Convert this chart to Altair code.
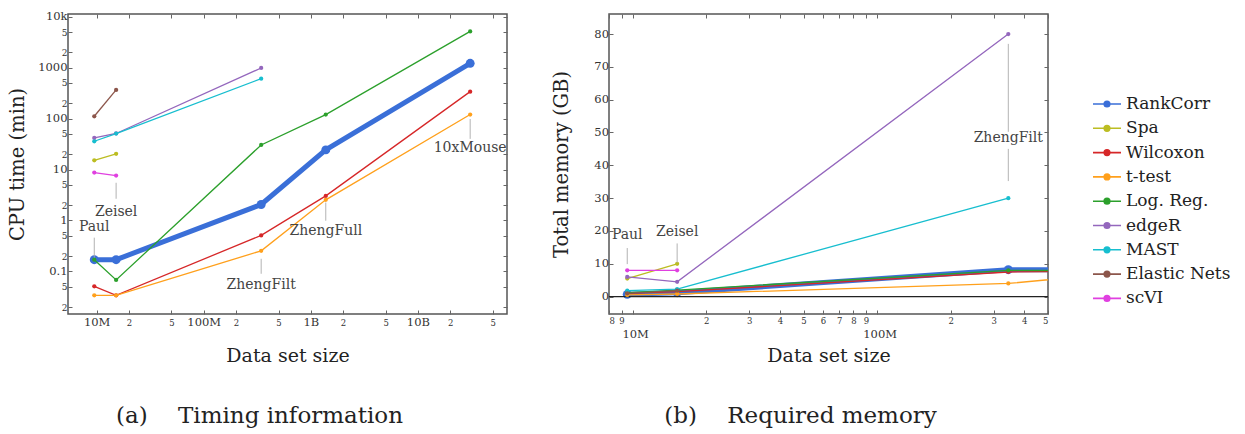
import altair as alt
import pandas as pd

# ---------------- data ----------------
datasets = ["Paul", "Zeisel", "ZhengFilt", "ZhengFull", "10xMouse"]
dataset_size = [9.5e6, 1.52e7, 3.44e8, 1.38e9, 3.08e10]

methods = ["RankCorr", "Spa", "Wilcoxon", "t-test", "Log. Reg.", "edgeR", "MAST", "Elastic Nets", "scVI"]
method_colors = ["#3a6fd8", "#bcbd22", "#d62728", "#ffa01c", "#2ca02c",
                 "#9467bd", "#17becf", "#8c564b", "#e040e0"]

# CPU time (min) per data set (None = not run)
cpu_rankcorr = [0.17, 0.17, 2.06, 24.3, 1216]
cpu_spa = [15.2, 20.3, None, None, None]
cpu_wilcoxon = [0.051, 0.034, 0.51, 3.04, 338]
cpu_ttest = [0.034, 0.034, 0.254, 2.54, 120]
cpu_logreg = [0.17, 0.068, 30.4, 120, 5150]
cpu_edger = [41.8, 51.0, 985, None, None]
cpu_mast = [35.9, 50.8, 608, None, None]
cpu_elastic = [111, 365, None, None, None]
cpu_scvi = [8.7, 7.6, None, None, None]

# Total memory (GB) per data set (None = not run)
mem_rankcorr = [0.7, 1.2, 8.2, 8.0, None]
mem_spa = [5.5, 10.0, None, None, None]
mem_wilcoxon = [1.0, 1.5, 7.5, 8.0, None]
mem_ttest = [0.5, 0.8, 4.0, 8.2, None]
mem_logreg = [1.2, 2.0, 8.0, 7.8, None]
mem_edger = [6.0, 4.5, 80.0, None, None]
mem_mast = [1.8, 2.3, 30.0, None, None]
mem_elastic = [1.0, 1.8, None, None, None]
mem_scvi = [8.0, 8.0, None, None, None]

# annotation labels: text value and leader-line ends
cpu_ann_label = ["Paul", "Zeisel", "ZhengFilt", "ZhengFull", "10xMouse"]
cpu_ann_text_y = [0.75, 1.5, 0.055, 0.61, 27]
cpu_ann_lead_y1 = [0.46, 5.5, 0.177, 2.25, 98]
cpu_ann_lead_y2 = [0.186, 2.67, 0.09, 0.99, 40]

mem_ann_label = ["Paul", "Zeisel", "ZhengFilt"]
mem_ann_text_y = [18.9, 19.7, 48.4]
mem_lead_ds = ["Paul", "Zeisel", "ZhengFilt", "ZhengFilt"]
mem_lead_y1 = [14.8, 16.2, 77.0, 45.0]
mem_lead_y2 = [9.9, 10.3, 50.2, 35.2]

# axis ticks
cpu_x_ticks = [1e7, 2e7, 5e7, 1e8, 2e8, 5e8, 1e9, 2e9, 5e9, 1e10, 2e10, 5e10]
cpu_x_labels = ["10M", "2", "5", "100M", "2", "5", "1B", "2", "5", "10B", "2", "5"]
cpu_y_ticks = [0.02, 0.05, 0.1, 0.2, 0.5, 1, 2, 5, 10, 20, 50, 100, 200, 500, 1000, 2000, 5000, 10000]
cpu_y_labels = ["2", "5", "0.1", "2", "5", "1", "2", "5", "10", "2", "5", "100", "2", "5", "1000", "2", "5", "10k"]
mem_x_ticks = [8e6, 9e6, 1e7, 2e7, 3e7, 4e7, 5e7, 6e7, 7e7, 8e7, 9e7, 1e8, 2e8, 3e8, 4e8, 5e8]
mem_x_labels = ["8", "9", "", "2", "3", "4", "5", "6", "7", "8", "9", "", "2", "3", "4", "5"]
mem_x_major = [1e7, 1e8]
mem_x_major_labels = ["10M", "100M"]
mem_y_ticks = [0, 10, 20, 30, 40, 50, 60, 70, 80]

FONT = "DejaVu Serif"
W, H = 439, 300
TXT = "#333333"

cpu_series = [cpu_rankcorr, cpu_spa, cpu_wilcoxon, cpu_ttest, cpu_logreg,
              cpu_edger, cpu_mast, cpu_elastic, cpu_scvi]
mem_series = [mem_rankcorr, mem_spa, mem_wilcoxon, mem_ttest, mem_logreg,
              mem_edger, mem_mast, mem_elastic, mem_scvi]


def long_table(series):
    rows = []
    for m, vals in zip(methods, series):
        for d, s, v in zip(datasets, dataset_size, vals):
            if v is not None:
                rows.append({"method": m, "dataset": d, "size": s, "value": v})
    return pd.DataFrame(rows)


df_cpu = long_table(cpu_series)
df_mem = long_table(mem_series)
size_of = dict(zip(datasets, dataset_size))

df_cpu_ann = pd.DataFrame({"label": cpu_ann_label,
                           "size": [size_of[d] for d in cpu_ann_label],
                           "ty": cpu_ann_text_y, "y1": cpu_ann_lead_y1, "y2": cpu_ann_lead_y2})
df_mem_ann = pd.DataFrame({"label": mem_ann_label,
                           "size": [size_of[d] for d in mem_ann_label],
                           "ty": mem_ann_text_y})
df_mem_lead = pd.DataFrame({"size": [size_of[d] for d in mem_lead_ds],
                            "y1": mem_lead_y1, "y2": mem_lead_y2})
df_mem_major = pd.DataFrame({"size": mem_x_major, "label": mem_x_major_labels})
df_zero = pd.DataFrame({"value": [0]})


def label_expr(ticks, labels):
    parts = [f"abs(datum.value/{t!r}-1)<1e-6 ? '{l}'" for t, l in zip(ticks, labels)]
    return " : ".join(parts) + " : ''"


def major_test(ticks, labels):
    majors = [t for t, l in zip(ticks, labels) if len(l) > 1 or l in ("1",)]
    return " || ".join(f"abs(datum.value/{t!r}-1)<1e-6" for t in majors)


INSIDE = alt.ExprRef("-4")

legend = alt.Legend(
    title=None, orient="none", legendX=1024, legendY=75,
    labelFont=FONT, labelFontSize=17, labelColor="#222",
    symbolType="M-1,0L1,0M-0.2,0A0.2,0.2,0,1,1,0.2,0A0.2,0.2,0,1,1,-0.2,0Z",
    symbolSize=784, symbolStrokeWidth=1.6, rowPadding=1.3, labelOffset=4, padding=0,
)
color_scale = alt.Scale(domain=methods, range=method_colors)


def color_enc(with_legend):
    return alt.Color("method:N", scale=color_scale, sort=methods,
                     legend=legend if with_legend else None)


def side_axes(orient_x, orient_y, n):
    ax = alt.Axis(orient=orient_x, labels=False, title=None, domain=False, grid=False,
                  tickSize=INSIDE, tickColor="#666", values=n[0])
    ay = alt.Axis(orient=orient_y, labels=False, title=None, domain=False, grid=False,
                  tickSize=INSIDE, tickColor="#666", values=n[1])
    return ax, ay


def caption(text):
    return alt.TitleParams(text, orient="bottom", font=FONT, fontSize=23, fontWeight="normal",
                           color="#222", offset=39, dx=-28)


# ---------------- timing panel ----------------
xs_t = alt.Scale(type="log", domain=[5.4e6, 6.8e10], nice=False)
ys_t = alt.Scale(type="log", domain=[0.0146, 11300], nice=False)

x_bottom_t = alt.Axis(
    orient="bottom", values=cpu_x_ticks, labelExpr=label_expr(cpu_x_ticks, cpu_x_labels),
    labelFontSize={"condition": {"test": major_test(cpu_x_ticks, cpu_x_labels), "value": 11.5}, "value": 8.5},
    labelFont=FONT, labelColor=TXT, labelBaseline="middle", labelPadding=12,
    tickSize=INSIDE, tickColor="#666", domain=False, grid=False,
    title="Data set size", titleFont=FONT, titleFontSize=19, titleFontWeight="normal",
    titleColor="#222", titlePadding=19)
y_left_t = alt.Axis(
    orient="left", values=cpu_y_ticks, labelExpr=label_expr(cpu_y_ticks, cpu_y_labels),
    labelFontSize={"condition": {"test": major_test(cpu_y_ticks, cpu_y_labels), "value": 11.5}, "value": 9},
    labelFont=FONT, labelColor=TXT, labelPadding=5,
    tickSize=INSIDE, tickColor="#666", domain=False, grid=False,
    title="CPU time (min)", titleFont=FONT, titleFontSize=19.5, titleFontWeight="normal",
    titleColor="#222", titlePadding=10)
x_top_t, y_right_t = side_axes("top", "right", (cpu_x_ticks, cpu_y_ticks))

base_cpu = alt.Chart(df_cpu)
rc_cpu = base_cpu.transform_filter(alt.datum.method == "RankCorr")
ot_cpu = base_cpu.transform_filter(alt.datum.method != "RankCorr")

t_layers = [
    rc_cpu.mark_line(strokeWidth=5).encode(
        x=alt.X("size:Q", scale=xs_t, axis=x_bottom_t),
        y=alt.Y("value:Q", scale=ys_t, axis=y_left_t),
        color=color_enc(True), order="size:Q"),
    rc_cpu.mark_circle(size=80, opacity=1).encode(
        x=alt.X("size:Q", scale=xs_t, axis=x_top_t),
        y=alt.Y("value:Q", scale=ys_t, axis=y_right_t),
        color=color_enc(True)),
    ot_cpu.mark_line(strokeWidth=1.3).encode(
        x=alt.X("size:Q", scale=xs_t, axis=None),
        y=alt.Y("value:Q", scale=ys_t, axis=None),
        color=color_enc(False), order="size:Q"),
    ot_cpu.mark_circle(size=18, opacity=1).encode(
        x=alt.X("size:Q", scale=xs_t, axis=None),
        y=alt.Y("value:Q", scale=ys_t, axis=None),
        color=color_enc(False)),
    alt.Chart(df_cpu_ann).mark_rule(color="#aaaaaa", strokeWidth=0.9).encode(
        x=alt.X("size:Q", scale=xs_t, axis=None),
        y=alt.Y("y1:Q", scale=ys_t, axis=None), y2="y2:Q"),
    alt.Chart(df_cpu_ann).mark_text(font=FONT, fontSize=14, color="#444", baseline="middle").encode(
        x=alt.X("size:Q", scale=xs_t, axis=None),
        y=alt.Y("ty:Q", scale=ys_t, axis=None), text="label:N"),
]
timing = alt.layer(*t_layers).properties(
    width=W, height=H, title=caption("(a)\u2003 Timing information"))

# ---------------- memory panel ----------------
xs_m = alt.Scale(type="log", domain=[8e6, 5e8], nice=False)
ys_m = alt.Scale(domain=[-5.3, 86.1], nice=False, zero=False)

x_bottom_m = alt.Axis(
    orient="bottom", values=mem_x_ticks, labelExpr=label_expr(mem_x_ticks, mem_x_labels),
    labelFontSize=8.5, labelFont=FONT, labelColor=TXT, labelBaseline="middle", labelPadding=10,
    tickSize=INSIDE, tickColor="#666", domain=False, grid=False,
    title="Data set size", titleFont=FONT, titleFontSize=19, titleFontWeight="normal",
    titleColor="#222", titlePadding=22)
y_left_m = alt.Axis(
    orient="left", values=mem_y_ticks, labelFontSize=11.5, labelFont=FONT, labelColor=TXT,
    labelPadding=4.5, tickSize=INSIDE, tickColor="#666", domain=False, grid=False,
    title="Total memory (GB)", titleFont=FONT, titleFontSize=19.5, titleFontWeight="normal",
    titleColor="#222", titlePadding=22)
x_top_m, y_right_m = side_axes("top", "right", (mem_x_ticks, mem_y_ticks))

base_mem = alt.Chart(df_mem)
rc_mem = base_mem.transform_filter(alt.datum.method == "RankCorr")
ot_mem = base_mem.transform_filter(alt.datum.method != "RankCorr")

m_layers = [
    rc_mem.mark_line(strokeWidth=5, clip=True).encode(
        x=alt.X("size:Q", scale=xs_m, axis=x_bottom_m),
        y=alt.Y("value:Q", scale=ys_m, axis=y_left_m),
        color=color_enc(True), order="size:Q"),
    rc_mem.mark_circle(size=80, opacity=1, clip=True).encode(
        x=alt.X("size:Q", scale=xs_m, axis=x_top_m),
        y=alt.Y("value:Q", scale=ys_m, axis=y_right_m),
        color=color_enc(True)),
    alt.Chart(df_zero).mark_rule(color="#222", strokeWidth=1.3).encode(
        y=alt.Y("value:Q", scale=ys_m, axis=None)),
    ot_mem.mark_line(strokeWidth=1.3, clip=True).encode(
        x=alt.X("size:Q", scale=xs_m, axis=None),
        y=alt.Y("value:Q", scale=ys_m, axis=None),
        color=color_enc(False), order="size:Q"),
    ot_mem.mark_circle(size=18, opacity=1, clip=True).encode(
        x=alt.X("size:Q", scale=xs_m, axis=None),
        y=alt.Y("value:Q", scale=ys_m, axis=None),
        color=color_enc(False)),
    alt.Chart(df_mem_lead).mark_rule(color="#aaaaaa", strokeWidth=0.9).encode(
        x=alt.X("size:Q", scale=xs_m, axis=None),
        y=alt.Y("y1:Q", scale=ys_m, axis=None), y2="y2:Q"),
    alt.Chart(df_mem_ann).mark_text(font=FONT, fontSize=14, color="#444", baseline="middle").encode(
        x=alt.X("size:Q", scale=xs_m, axis=None),
        y=alt.Y("ty:Q", scale=ys_m, axis=None), text="label:N"),
    alt.Chart(df_mem_major).mark_text(font=FONT, fontSize=11.5, color=TXT, baseline="middle", dx=3).encode(
        x=alt.X("size:Q", scale=xs_m, axis=None),
        y=alt.value(H + 21), text="label:N"),
]
memory = alt.layer(*m_layers).properties(
    width=W, height=H, title=caption("(b)\u2003 Required memory"))

chart = alt.hconcat(timing, memory, spacing=102, bounds="flush").properties(
    padding={"left": 6, "top": 9, "right": 5, "bottom": 5},
    background="white",
).configure_view(stroke="#555555", strokeWidth=1.5)

chart.save("out.html", embed_options={"renderer": "svg", "actions": False})
